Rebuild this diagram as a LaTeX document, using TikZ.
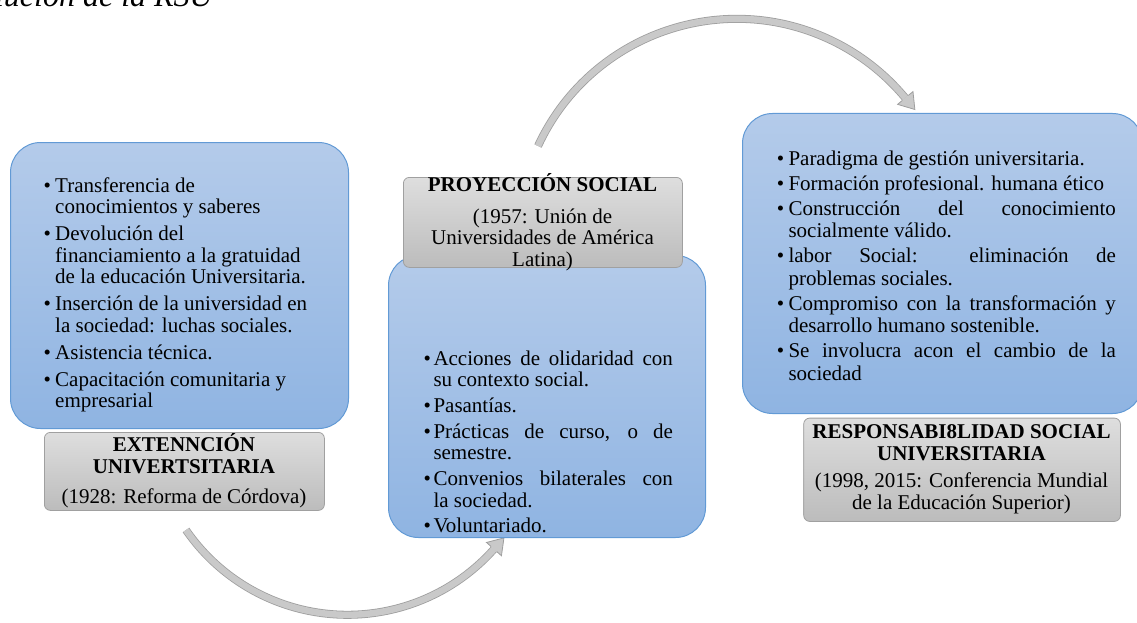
\documentclass[tikz,border=0pt]{standalone}
\usepackage{fontspec}
\setmainfont{Liberation Serif}
\definecolor{blueTop}{RGB}{180,203,234}
\definecolor{blueBot}{RGB}{143,180,226}
\definecolor{blueLine}{RGB}{98,154,213}
\definecolor{grayTop}{RGB}{222,222,222}
\definecolor{grayBot}{RGB}{188,188,188}
\definecolor{grayLine}{RGB}{160,160,160}
\definecolor{arrFill}{RGB}{201,201,201}
\definecolor{arrLine}{RGB}{158,158,158}
\newcommand\itm[2]{\par\hangindent=#1\hangafter=1\noindent\makebox[#1][l]{\textbullet}#2\par}
\newcommand\J[2]{\makebox[#1][s]{#2}}
\newcommand\nl{\hfil\break}
\tikzset{
  bluebox/.style={draw=blueLine, line width=1pt, rounded corners=30pt, top color=blueTop, bottom color=blueBot, inner sep=0pt, anchor=north west},
  graybox/.style={draw=grayLine, line width=0.8pt, rounded corners=6pt, top color=grayTop, bottom color=grayBot, inner sep=0pt, anchor=north west},
  txt/.style={inner sep=0pt, text=black},
  arrowshaft/.style={draw=arrLine, line width=0.8pt, double=arrFill, double distance=6.4pt},
  ahead/.pic={
    \fill[arrFill] (0,-10) -- (15,0) -- (0,10) -- cycle;
    \draw[arrLine, line width=0.8pt, line join=miter] (0,3.9) -- (0,10) -- (15,0) -- (0,-10) -- (0,-3.9);
  }
}
\begin{document}
\begin{tikzpicture}[x=1pt,y=1pt]
\useasboundingbox (0,0) rectangle (1137,-623);
\clip (0,0) rectangle (1137,-623);

% title (cut off at top-left)
\node[txt, anchor=base east, font=\fontsize{32}{34}\selectfont\itshape] (title) at (213,-6.7) {Evolución de la RSU};

% arrows
\coordinate (a1s) at (186,-530);
\draw[arrowshaft] (a1s) arc[start angle=214.6, end angle=318.3, radius=196.2pt] coordinate (a1e);
\pic[rotate=48.3] at (a1e) {ahead};
\coordinate (a2s) at (538,-146);
\draw[arrowshaft] (a2s) arc[start angle=155.2, end angle=39.7, radius=219pt] coordinate (a2e);
\pic[rotate=-50.3] at (a2e) {ahead};

% left group
\node[bluebox, minimum width=338pt, minimum height=286pt] (lb) at (10,-142) {};
\node[graybox, minimum width=280pt, minimum height=78pt] (lg) at (44,-432) {};
\node[txt, anchor=base west] (lt) at (43.3,-192) {\parbox[t]{290pt}{\fontsize{21}{21.5}\selectfont\parskip=5.5pt
\itm{11.7pt}{Transferencia de\nl conocimientos y saberes}
\itm{11.7pt}{Devolución del\nl financiamiento a la gratuidad\nl de la educación Universitaria.}
\itm{11.7pt}{Inserción de la universidad en\nl la sociedad: luchas sociales.}
\itm{11.7pt}{Asistencia técnica.}
\itm{11.7pt}{Capacitación comunitaria y\nl empresarial}}};
\node[txt, anchor=base] (lgt) at (184,-451.7) {\parbox[t]{300pt}{\centering\fontsize{21}{21.6}\selectfont
\textbf{EXTENNCIÓN}\\\textbf{UNIVERTSITARIA}\\[8.4pt](1928: Reforma de Córdova)}};

% middle group
\node[bluebox, minimum width=317pt, minimum height=282pt] (mb) at (388,-255) {};
\node[graybox, minimum width=279pt, minimum height=90pt] (mg) at (403,-177) {};
\node[txt, anchor=base west] (mt) at (423.3,-365) {\parbox[t]{252pt}{\fontsize{21}{21.7}\selectfont\parskip=4pt
\itm{10pt}{\J{239.4pt}{Acciones de olidaridad con}\nl su contexto social.}
\itm{10pt}{Pasantías.}
\itm{10pt}{\J{239.4pt}{Prácticas de curso, o de}\nl semestre.}
\itm{10pt}{\J{239.4pt}{Convenios bilaterales con}\nl la sociedad.}
\itm{10pt}{Voluntariado.}}};
\node[txt, anchor=base] (mgt) at (542.5,-191.7) {\parbox[t]{300pt}{\centering\fontsize{21}{21.6}\selectfont
\textbf{PROYECCIÓN SOCIAL}\\[10pt](1957: Unión de\\Universidades de América\\Latina)}};

% right group
\node[bluebox, minimum width=400pt, minimum height=300pt] (rb) at (742,-113) {};
\node[graybox, minimum width=316.7pt, minimum height=103.3pt] (rg) at (803.3,-417.7) {};
\node[txt, anchor=base west] (rt) at (776.7,-165) {\parbox[t]{342pt}{\fontsize{21}{22.5}\selectfont\parskip=2.5pt
\itm{11.6pt}{Paradigma de gestión universitaria.}
\itm{11.6pt}{Formación profesional. humana ético}
\itm{11.6pt}{\J{327.4pt}{Construcción del conocimiento}\nl socialmente válido.}
\itm{11.6pt}{\J{327.4pt}{labor Social: eliminación de}\nl problemas sociales.}
\itm{11.6pt}{\J{327.4pt}{Compromiso con la transformación y}\nl desarrollo humano sostenible.}
\itm{11.6pt}{\J{327.4pt}{Se involucra acon el cambio de la}\nl sociedad}}};
\node[txt, anchor=base] (rgt) at (961.5,-438.3) {\parbox[t]{330pt}{\centering\fontsize{21}{22}\selectfont
\textbf{RESPONSABI8LIDAD SOCIAL}\\\textbf{UNIVERSITARIA}\\[4.7pt](1998, 2015: Conferencia Mundial\\de la Educación Superior)}};
\end{tikzpicture}
\end{document}
